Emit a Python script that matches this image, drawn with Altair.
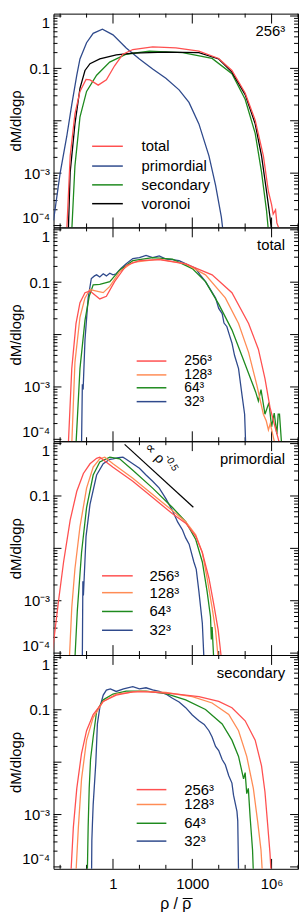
import altair as alt
import pandas as pd

FONT = "Liberation Sans"
RED, ORANGE, GREEN, BLUE, BLACK = "#ff5050", "#ff8c55", "#1e8a1e", "#2f4a8c", "#000000"

# ---------------- data: log10(rho/rho_bar) and log10(dM/dlog rho) ----------------
P1_LABELS = ["total", "primordial", "secondary", "voronoi"]
RES_LABELS = ["256³", "128³", "64³", "32³"]
PANEL_TAGS = ["256³", "total", "primordial", "secondary"]
X_TITLE = "ρ / ρ"

# panel 1 (256^3)
P1_TOTAL_LX = [-1.75, -1.62, -1.44, -1.25, -1.02, -0.87, -0.56, -0.25, 0.06, 0.375, 0.75, 1.5, 2.38, 3.25, 4.0, 4.5, 5.0, 5.38, 5.69, 5.88, 6.0, 6.06, 6.15, 6.2, 6.31]
P1_TOTAL_LY = [-4.1, -2.67, -1.87, -1.44, -1.21, -1.22, -1.32, -1.22, -0.95, -0.73, -0.64, -0.59, -0.61, -0.67, -0.81, -1.04, -1.47, -1.99, -2.67, -3.35, -3.6, -3.78, -3.7, -3.95, -4.1]
P1_PRIM_LX = [-2.25, -2.0, -1.75, -1.56, -1.37, -1.25, -1.0, -0.75, -0.4, 0.0, 0.5, 1.0, 1.5, 2.0, 2.5, 2.875, 3.25, 3.63, 3.88, 4.1, 4.16]
P1_PRIM_LY = [-3.9, -3.0, -2.30, -1.69, -1.13, -0.82, -0.51, -0.33, -0.25, -0.36, -0.61, -0.82, -1.01, -1.19, -1.41, -1.65, -2.06, -2.67, -3.23, -3.84, -4.1]
P1_SEC_LX = [-1.56, -1.44, -1.25, -1.0, -0.62, -0.125, 0.5, 1.375, 2.63, 3.75, 4.5, 5.0, 5.38, 5.62, 5.81, 5.88]
P1_SEC_LY = [-4.1, -2.86, -1.93, -1.44, -1.13, -0.88, -0.73, -0.67, -0.70, -0.81, -1.10, -1.59, -2.24, -2.98, -3.72, -4.1]
P1_VOR_LX = [-1.69, -1.62, -1.44, -1.25, -1.06, -0.87, -0.5, 0.125, 0.75, 2.0, 3.25, 4.0, 4.5, 5.0, 5.38, 5.62, 5.81, 5.94, 6.0]
P1_VOR_LY = [-4.1, -2.98, -2.06, -1.38, -1.04, -0.91, -0.82, -0.74, -0.71, -0.69, -0.70, -0.82, -1.07, -1.50, -2.06, -2.67, -3.35, -3.84, -4.1]

# panel 2 (total, resolutions)
P2_256_LX = [-1.69, -1.56, -1.40, -1.25, -1.06, -0.87, -0.5, -0.25, 0.06, 0.5, 1.0, 1.75, 2.75, 3.75, 4.5, 5.13, 5.5, 5.75, 5.94, 6.13, 6.31]
P2_256_LY = [-4.1, -2.65, -1.79, -1.39, -1.20, -1.17, -1.32, -1.27, -0.99, -0.68, -0.59, -0.57, -0.65, -0.86, -1.20, -1.79, -2.28, -2.84, -3.39, -3.76, -4.1]
P2_128_LX = [-1.56, -1.44, -1.25, -1.06, -0.87, -0.62, -0.37, -0.12, 0.25, 0.75, 1.75, 2.75, 3.5, 4.25, 4.75, 5.13, 5.44, 5.69, 5.8, 5.88, 5.95, 6.13]
P2_128_LY = [-4.1, -2.53, -1.67, -1.30, -1.14, -1.17, -1.20, -1.08, -0.80, -0.62, -0.56, -0.65, -0.86, -1.30, -1.79, -2.34, -2.96, -3.52, -3.65, -3.82, -3.7, -4.1]
P2_64_LX = [-1.40, -1.25, -1.06, -0.90, -0.75, -0.5, -0.12, 0.25, 0.75, 1.5, 2.25, 3.0, 3.5, 4.0, 4.5, 4.88, 5.25, 5.4, 5.5, 5.6, 5.75, 5.9, 6.0, 6.1, 6.2, 6.25, 6.3, 6.38]
P2_64_LY = [-4.1, -2.65, -1.73, -1.27, -1.05, -1.04, -0.99, -0.77, -0.59, -0.53, -0.56, -0.74, -0.99, -1.42, -1.91, -2.41, -2.90, -3.1, -3.27, -3.05, -3.52, -3.3, -3.76, -3.5, -3.9, -3.52, -3.52, -4.1]
P2_32_LX = [-1.19, -1.16, -1.13, -1.06, -0.94, -0.82, -0.7, -0.62, -0.5, -0.37, -0.25, -0.12, 0.0, 0.12, 0.3, 0.5, 0.75, 1.0, 1.25, 1.5, 1.75, 2.0, 2.25, 2.5, 2.8, 3.13, 3.3, 3.5, 3.7, 3.88, 4.0, 4.13, 4.2, 4.31, 4.4, 4.5, 4.6, 4.75, 4.88, 4.98, 5.02]
P2_32_LY = [-4.1, -2.95, -3.05, -2.10, -1.30, -0.93, -0.88, -0.86, -0.90, -0.84, -0.88, -0.83, -0.86, -0.84, -0.74, -0.65, -0.55, -0.53, -0.49, -0.53, -0.50, -0.56, -0.57, -0.59, -0.66, -0.74, -0.86, -0.99, -1.15, -1.30, -1.50, -1.60, -1.78, -1.85, -2.0, -2.16, -2.4, -2.65, -3.15, -3.52, -4.1]

# panel 3 (primordial, resolutions)
P3_256_LX = [-2.3, -2.25, -2.06, -1.87, -1.62, -1.37, -1.12, -0.87, -0.62, -0.5, 0.0, 0.75, 1.5, 2.25, 2.75, 3.13, 3.38, 3.63, 3.81, 3.98, 4.1]
P3_256_LY = [-4.0, -3.80, -3.0, -2.26, -1.46, -0.91, -0.57, -0.385, -0.28, -0.26, -0.45, -0.72, -1.03, -1.34, -1.52, -1.77, -2.08, -2.57, -3.06, -3.56, -4.1]
P3_128_LX = [-1.65, -1.56, -1.44, -1.25, -1.0, -0.75, -0.5, -0.31, 0.0, 0.75, 1.5, 2.25, 2.75, 3.13, 3.38, 3.56, 3.75, 3.88, 3.98]
P3_128_LY = [-4.1, -3.13, -2.39, -1.59, -0.85, -0.45, -0.29, -0.26, -0.385, -0.66, -0.97, -1.28, -1.49, -1.74, -2.08, -2.57, -3.13, -3.56, -4.1]
P3_64_LX = [-1.44, -1.35, -1.19, -1.0, -0.75, -0.5, -0.12, 0.25, 0.75, 1.5, 2.25, 2.75, 3.13, 3.38, 3.56, 3.69, 3.72, 3.75, 3.81]
P3_64_LY = [-4.1, -3.19, -2.08, -1.22, -0.60, -0.35, -0.26, -0.29, -0.51, -0.85, -1.22, -1.49, -1.83, -2.26, -2.82, -3.31, -3.74, -3.5, -4.1]
P3_32_LX = [-1.16, -1.14, -1.12, -1.02, -0.87, -0.62, -0.37, -0.12, 0.0, 0.2, 0.375, 0.5, 0.75, 1.0, 1.25, 1.5, 1.75, 2.0, 2.25, 2.45, 2.63, 2.75, 2.88, 3.06, 3.15, 3.25, 3.38, 3.44]
P3_32_LY = [-4.1, -2.63, -2.9, -1.77, -1.16, -0.60, -0.385, -0.30, -0.29, -0.27, -0.26, -0.30, -0.385, -0.47, -0.60, -0.72, -0.85, -1.05, -1.28, -1.5, -1.65, -1.8, -1.92, -2.26, -2.4, -2.82, -3.43, -4.1]
GUIDE_LX = [0.44, 3.04]
GUIDE_LY = [-0.015, -1.216]

# panel 4 (secondary, resolutions)
P4_256_LX = [-1.59, -1.5, -1.37, -1.19, -1.0, -0.75, -0.37, 0.12, 0.75, 1.37, 2.25, 3.25, 4.0, 4.5, 5.0, 5.38, 5.62, 5.75, 5.85, 5.94, 5.98]
P4_256_LY = [-4.1, -3.24, -2.50, -1.83, -1.40, -1.09, -0.84, -0.72, -0.66, -0.66, -0.69, -0.75, -0.84, -0.96, -1.21, -1.58, -2.07, -2.57, -3.18, -3.74, -4.1]
P4_128_LX = [-1.40, -1.31, -1.19, -1.0, -0.75, -0.37, 0.12, 1.0, 2.0, 3.0, 3.75, 4.38, 4.75, 5.06, 5.31, 5.47, 5.6, 5.65]
P4_128_LY = [-4.1, -3.24, -2.32, -1.58, -1.15, -0.84, -0.70, -0.645, -0.67, -0.75, -0.87, -1.09, -1.40, -1.89, -2.50, -3.12, -3.68, -4.1]
P4_64_LX = [-0.97, -0.94, -0.90, -0.85, -0.75, -0.62, -0.37, 0.0, 0.5, 1.25, 2.0, 2.75, 3.5, 4.13, 4.5, 4.75, 4.94, 5.0, 5.06, 5.12, 5.19, 5.28, 5.31]
P4_64_LY = [-4.1, -3.24, -2.50, -1.95, -1.52, -1.03, -0.81, -0.70, -0.645, -0.645, -0.69, -0.81, -0.995, -1.27, -1.58, -1.89, -2.32, -2.2, -2.60, -2.5, -3.06, -3.68, -4.1]
P4_32_LX = [-0.81, -0.80, -0.78, -0.75, -0.65, -0.59, -0.5, -0.37, -0.25, -0.1, 0.12, 0.4, 0.75, 1.0, 1.25, 1.5, 1.75, 2.0, 2.25, 2.5, 2.75, 3.0, 3.25, 3.45, 3.63, 3.75, 3.88, 4.0, 4.13, 4.25, 4.38, 4.5, 4.56, 4.69, 4.72, 4.75]
P4_32_LY = [-4.1, -3.49, -3.2, -2.81, -2.01, -1.27, -0.96, -0.72, -0.625, -0.60, -0.65, -0.60, -0.56, -0.60, -0.58, -0.62, -0.65, -0.70, -0.78, -0.85, -0.96, -1.10, -1.21, -1.28, -1.40, -1.52, -1.70, -1.78, -1.95, -2.05, -2.26, -2.4, -2.63, -2.94, -3.12, -4.1]

# ---------------- layout / style ----------------
W, H = 247, 216
X_DOMAIN = [10 ** -2.25, 1e7]
Y_DOMAIN = [9.2e-5, 1.11]

X_MAJOR = [1.0, 1e3, 1e6]
X_MINOR = [10.0 ** k for k in range(-2, 8) if k not in (0, 3, 6)]
Y_MAJOR = [10.0 ** k for k in range(-4, 1)]
Y_MINOR = [m * 10.0 ** k for k in range(-4, 0) for m in range(2, 10)]

Y_AXIS = alt.Axis(
    title="dM/dlogρ", values=[1e-4, 1e-3, 0.1, 1.0],
    labelExpr="datum.value > 0.5 ? '1' : datum.value > 0.05 ? '0.1' : datum.value > 0.0005 ? '10⁻³' : '10⁻⁴'",
    ticks=False, domain=False, grid=False, labelFontSize=15, labelPadding=4, labelFlush=5,
    titleFontSize=15, titleFontWeight="normal", titleX=-38, titleY=H / 2,
    titleAlign="center", titleBaseline="middle",
)
X_AXIS = alt.Axis(
    title=None, values=X_MAJOR,
    labelExpr="datum.value < 10 ? '1' : datum.value < 100000 ? '1000' : '10⁶'",
    ticks=False, domain=False, grid=False, labelFontSize=15, labelPadding=8,
)


def to_df(lx, ly):
    return pd.DataFrame({"rho": [10.0 ** v for v in lx], "dm": [10.0 ** v for v in ly]})


def make_panel(curves, labels, colors, tag, leg_y, leg_x0, leg_x1, leg_tx, leg_fs, bottom, extras=()):
    xs = alt.Scale(type="log", domain=X_DOMAIN, nice=False)
    ys = alt.Scale(type="log", domain=Y_DOMAIN, nice=False)
    xaxis = X_AXIS if bottom else None

    def xenc(f):
        return alt.X(f, type="quantitative", scale=xs, axis=xaxis)

    def yenc(f):
        return alt.Y(f, type="quantitative", scale=ys, axis=Y_AXIS)

    layers = []
    # inward ticks on all four sides
    for vals, ln in ((Y_MAJOR, 8), (Y_MINOR, 4)):
        d = pd.DataFrame({"v": vals})
        layers.append(alt.Chart(d).mark_rule(color="black", strokeWidth=1).encode(
            y=yenc("v"), x=alt.value(0), x2=alt.value(ln)))
        layers.append(alt.Chart(d).mark_rule(color="black", strokeWidth=1).encode(
            y=yenc("v"), x=alt.value(W), x2=alt.value(W - ln)))
    for vals, ln in ((X_MAJOR, 10), (X_MINOR, 4)):
        d = pd.DataFrame({"v": vals})
        layers.append(alt.Chart(d).mark_rule(color="black", strokeWidth=1).encode(
            x=xenc("v"), y=alt.value(H), y2=alt.value(H - ln)))
        layers.append(alt.Chart(d).mark_rule(color="black", strokeWidth=1).encode(
            x=xenc("v"), y=alt.value(0), y2=alt.value(ln)))

    for (lx, ly), col in curves:
        layers.append(alt.Chart(to_df(lx, ly)).mark_line(color=col, strokeWidth=1.3, clip=True).encode(
            x=xenc("rho"), y=yenc("dm")))

    for e in extras:
        layers.append(e(xenc, yenc))

    # legend
    for lab, col, yy in zip(labels, colors, leg_y):
        d = pd.DataFrame({"t": [lab]})
        layers.append(alt.Chart(d).mark_rule(color=col, strokeWidth=1.5).encode(
            x=alt.value(leg_x0), x2=alt.value(leg_x1), y=alt.value(yy)))
        layers.append(alt.Chart(d).mark_text(align="left", baseline="middle", fontSize=leg_fs, font=FONT).encode(
            x=alt.value(leg_tx), y=alt.value(yy), text="t:N"))

    layers.append(alt.Chart(pd.DataFrame({"t": [tag]})).mark_text(
        align="right", baseline="middle", fontSize=15, font=FONT).encode(
        x=alt.value(W - 13), y=alt.value(18), text="t:N"))

    if bottom:
        # x-axis title: rho / rho-bar (bar drawn as a short rule over the second rho)
        d = pd.DataFrame({"t": [X_TITLE]})
        layers.append(alt.Chart(d).mark_text(align="center", baseline="alphabetic", fontSize=16, font=FONT).encode(
            x=alt.value(W / 2), y=alt.value(H + 41), text="t:N"))
        layers.append(alt.Chart(d).mark_rule(color="black", strokeWidth=1).encode(
            x=alt.value(W / 2 + 7), x2=alt.value(W / 2 + 17), y=alt.value(H + 30)))

    return alt.layer(*layers).properties(width=W, height=H)


def guide_line(xenc, yenc):
    return alt.Chart(to_df(GUIDE_LX, GUIDE_LY)).mark_line(color="black", strokeWidth=1.2, clip=True).encode(
        x=xenc("rho"), y=yenc("dm"))


def guide_text(xenc, yenc):
    d = pd.DataFrame({"rho": [10 ** 1.43, 10 ** 1.75], "dm": [10 ** -0.10, 10 ** -0.29], "t": ["∝", "ρ"]})
    return alt.Chart(d).mark_text(angle=45, fontSize=14, font=FONT, baseline="middle", align="center").encode(
        x=xenc("rho"), y=yenc("dm"), text="t:N")


def guide_exp(xenc, yenc):
    d = pd.DataFrame({"rho": [10 ** 2.22], "dm": [10 ** -0.37], "t": ["-0.5"]})
    return alt.Chart(d).mark_text(angle=60, fontSize=10, font=FONT, baseline="middle", align="center").encode(
        x=xenc("rho"), y=yenc("dm"), text="t:N")


p1 = make_panel(
    [((P1_PRIM_LX, P1_PRIM_LY), BLUE), ((P1_SEC_LX, P1_SEC_LY), GREEN),
     ((P1_VOR_LX, P1_VOR_LY), BLACK), ((P1_TOTAL_LX, P1_TOTAL_LY), RED)],
    P1_LABELS, [RED, BLUE, GREEN, BLACK], PANEL_TAGS[0],
    [134, 154, 173, 192], 39, 70, 89, 15, False)
p2 = make_panel(
    [((P2_32_LX, P2_32_LY), BLUE), ((P2_64_LX, P2_64_LY), GREEN),
     ((P2_128_LX, P2_128_LY), ORANGE), ((P2_256_LX, P2_256_LY), RED)],
    RES_LABELS, [RED, ORANGE, GREEN, BLUE], PANEL_TAGS[1],
    [135, 149, 162, 176], 84, 114, 132, 14, False)
p3 = make_panel(
    [((P3_32_LX, P3_32_LY), BLUE), ((P3_64_LX, P3_64_LY), GREEN),
     ((P3_128_LX, P3_128_LY), ORANGE), ((P3_256_LX, P3_256_LY), RED)],
    RES_LABELS, [RED, ORANGE, GREEN, BLUE], PANEL_TAGS[2],
    [136, 153, 172, 191], 49, 80, 97, 15, False, extras=(guide_line, guide_text, guide_exp))
p4 = make_panel(
    [((P4_32_LX, P4_32_LY), BLUE), ((P4_64_LX, P4_64_LY), GREEN),
     ((P4_128_LX, P4_128_LY), ORANGE), ((P4_256_LX, P4_256_LY), RED)],
    RES_LABELS, [RED, ORANGE, GREEN, BLUE], PANEL_TAGS[3],
    [136, 151, 170, 188], 84, 114, 132, 15, True)

chart = (
    alt.vconcat(p1, p2, p3, p4, spacing=0, bounds="flush")
    .properties(padding={"left": 0, "right": 0, "top": 0, "bottom": 0})
    .configure_view(stroke="black", strokeWidth=1)
    .configure_axis(labelFont=FONT, titleFont=FONT, labelColor="black", titleColor="black")
)

chart.save("out.html", embed_options={"renderer": "svg", "actions": False})
